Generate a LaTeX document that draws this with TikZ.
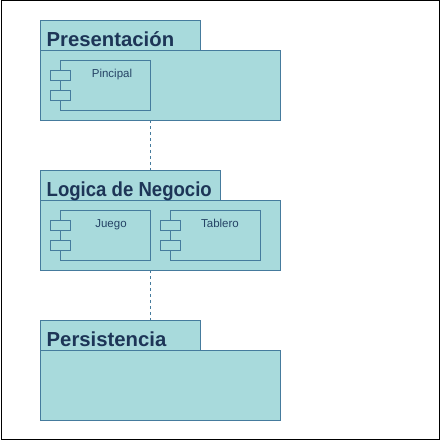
\documentclass[tikz,border=0pt]{standalone}
\usepackage{fontspec}
\setmainfont{Liberation Sans}
\definecolor{pkgfill}{HTML}{A8DADC}
\definecolor{pkgline}{HTML}{457B9D}
\definecolor{pkgtext}{HTML}{1D3557}
\begin{document}
\begin{tikzpicture}[x=1pt,y=-1pt,
  pkg/.style={draw=pkgline,fill=pkgfill,line width=0.8pt},
  comp/.style={draw=pkgline,fill=pkgfill,line width=0.8pt},
  ttl/.style={text=pkgtext,font=\fontsize{20.3}{20.3}\selectfont\bfseries,anchor=base west,inner sep=0pt},
  clabel/.style={text=pkgtext!80!pkgline,font=\fontsize{11.5}{11.5}\selectfont,anchor=base,inner sep=0pt},
  dep/.style={draw=pkgline,line width=0.8pt,dash pattern=on 3pt off 3pt}]
\useasboundingbox (0,0) rectangle (441,441);
\draw[black,line width=1pt] (1,1) rectangle (439,439);
% package 1
\draw[pkg] (40,20) rectangle (200,50);
\draw[pkg] (40,50) rectangle (280,120);
\node[ttl] (t1) at (46.5,46.5) {Presentación};
\coordinate (p1b) at (150,120);
% component Pincipal
\draw[comp] (60,60) rectangle (150,110);
\draw[comp] (50,70) rectangle (70,80);
\draw[comp] (50,90) rectangle (70,100);
\node[clabel] (c1) at (112,78) {Pincipal};
% package 2
\draw[pkg] (40,170) rectangle (220,200);
\draw[pkg] (40,200) rectangle (280,270);
\node[ttl] (t2) at (46.5,196.5) {\scalebox{0.915}[1]{Logica de Negocio}};
\coordinate (p2t) at (150,170);
\coordinate (p2b) at (150,270);
\draw[comp] (60,210) rectangle (150,260);
\draw[comp] (50,220) rectangle (70,230);
\draw[comp] (50,240) rectangle (70,250);
\node[clabel] (c2) at (111,227.5) {Juego};
\draw[comp] (170,210) rectangle (260,260);
\draw[comp] (160,220) rectangle (180,230);
\draw[comp] (160,240) rectangle (180,250);
\node[clabel] (c3) at (220,227.5) {Tablero};
% package 3
\draw[pkg] (40,320) rectangle (200,350);
\draw[pkg] (40,350) rectangle (280,420);
\node[ttl] (t3) at (46.5,346.5) {Persistencia};
\coordinate (p3t) at (150,320);
% dependencies
\draw[dep] (p1b) -- (p2t);
\draw[dep] (p2b) -- (p3t);
\end{tikzpicture}
\end{document}
